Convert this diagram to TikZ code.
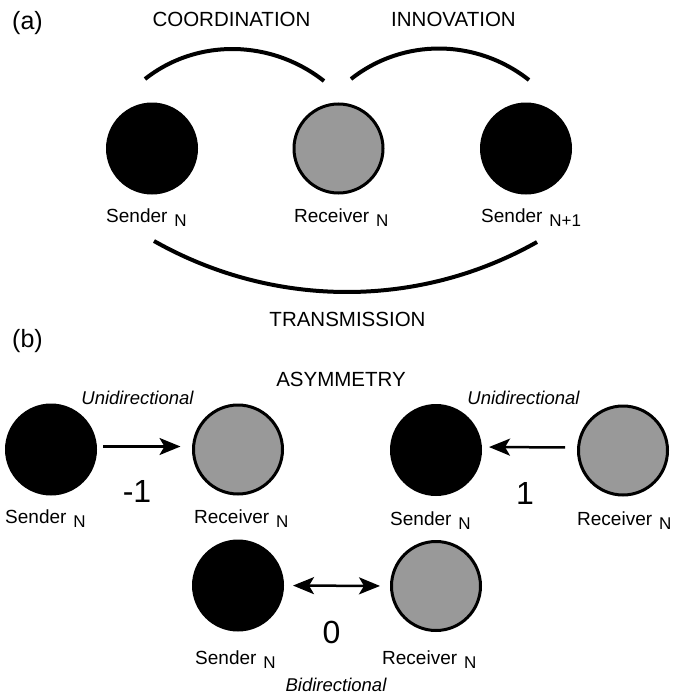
\documentclass[tikz,border=0pt]{standalone}
\usepackage{fontspec}
\setmainfont{Liberation Sans}
\usetikzlibrary{arrows.meta}
\definecolor{nodegray}{RGB}{153,153,153}
% lowered, smaller index after a node name
\newcommand\lowsub[1]{\hspace{7pt}\raisebox{-4pt}{\fontsize{17}{17}\selectfont #1}}

\begin{document}
\begin{tikzpicture}[x=1pt,y=-1pt,
  sendernode/.style={circle, fill=black, minimum size=92pt, inner sep=0pt, outer sep=0pt},
  receivernode/.style={circle, fill=nodegray, draw=black, line width=3pt, minimum size=89pt, inner sep=0pt, outer sep=0pt},
  bracket/.style={line width=4pt},
  lbl/.style={inner sep=0pt, anchor=base west, font=\fontsize{19}{19}\selectfont},
  head/.style={inner sep=0pt, anchor=base, font=\fontsize{20.5}{20.5}\selectfont},
  mode/.style={inner sep=0pt, anchor=base, font=\fontsize{18.5}{18.5}\selectfont\itshape},
  score/.style={inner sep=0pt, anchor=base, font=\fontsize{32}{32}\selectfont},
  panel/.style={inner sep=0pt, anchor=base west, font=\fontsize{25}{25}\selectfont},
  tip/.tip={Stealth[length=21pt,width=17pt,inset=5pt]},
  arr/.style={line width=2.5pt, -tip},
  dblarr/.style={line width=2.5pt, tip-tip},
]
\useasboundingbox (0,0) rectangle (675,696);

% ---------- panel (a) ----------
\node[panel] (pa) at (12,29) {(a)};

\node[sendernode]   (sa1) at (152,148.5) {};
\node[receivernode] (ra)  at (338.5,148.5) {};
\node[sendernode]   (sa2) at (526,148.5) {};

\node[lbl] (lsa1) at (106,222) {Sender\lowsub{N}};
\node[lbl] (lra)  at (294,222) {Receiver\lowsub{N}};
\node[lbl] (lsa2) at (481,222) {Sender\lowsub{N+1}};

\node[head] (hco) at (231.5,27) {COORDINATION};
\node[head] (hin) at (453.5,27) {INNOVATION};
\node[head] (htr) at (347.5,326) {TRANSMISSION};

\coordinate (coA) at (145,79);
\coordinate (coB) at (324,81);
\coordinate (inA) at (351,79);
\coordinate (inB) at (529,80);
\coordinate (trA) at (154,241);
\coordinate (trB) at (537,242);

\draw[bracket] (coA) .. controls +(-38.2:66.8) and +(-141.8:66.8) .. (coB);
\draw[bracket] (inA) .. controls +(-38.2:66.8) and +(-141.8:66.8) .. (inB);
\draw[bracket] (trA) .. controls +(29.5:136.7) and +(150.5:136.7) .. (trB);

% ---------- panel (b) ----------
\node[panel] (pb) at (12,347) {(b)};
\node[head] (has) at (341,386) {ASYMMETRY};

% sender to receiver
\node[sendernode]   (sb1) at (51,449.5) {};
\node[receivernode] (rb1) at (238,449.5) {};
\node[lbl] (lsb1) at (5,523) {Sender\lowsub{N}};
\node[lbl] (lrb1) at (194,523) {Receiver\lowsub{N}};
\node[mode] (mb1) at (137.5,404) {Unidirectional};
\node[score] (nb1) at (137,502) {-1};
\draw[arr, shorten <=6pt, shorten >=13pt] ([yshift=3pt]sb1.east) -- ([yshift=3pt]rb1.west);

% receiver to sender
\node[sendernode]   (sb2) at (436,450) {};
\node[receivernode] (rb2) at (623,450.5) {};
\node[lbl] (lsb2) at (390,525) {Sender\lowsub{N}};
\node[lbl] (lrb2) at (577,525) {Receiver\lowsub{N}};
\node[mode] (mb2) at (523.5,404.5) {Unidirectional};
\node[score] (nb2) at (525,504) {1};
\draw[arr, shorten <=13.5pt, shorten >=7pt] ([yshift=3pt]rb2.west) -- ([yshift=3pt]sb2.east);

% both ways
\node[sendernode]   (sb3) at (238,585.5) {};
\node[receivernode] (rb3) at (436,586) {};
\node[lbl] (lsb3) at (195,664) {Sender\lowsub{N}};
\node[lbl] (lrb3) at (382,664) {Receiver\lowsub{N}};
\node[mode] (mb3) at (336,691) {Bidirectional};
\node[score] (nb3) at (331.5,643) {0};
\draw[dblarr, shorten <=9pt, shorten >=11.5pt] (sb3.east) -- (rb3.west);

\end{tikzpicture}
\end{document}
